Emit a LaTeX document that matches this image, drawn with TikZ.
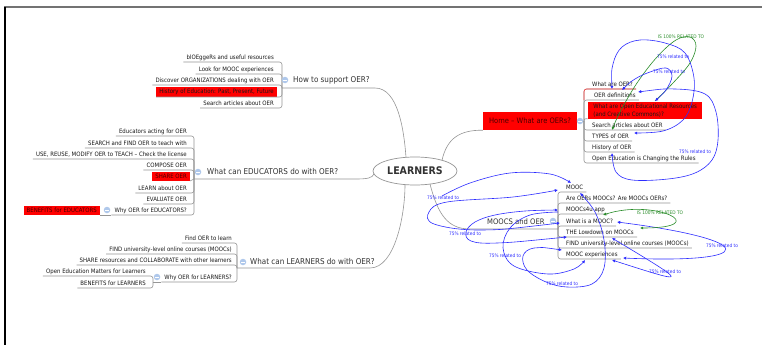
\documentclass[tikz,border=0pt]{standalone}
\usepackage{fontspec}
\setmainfont{DejaVu Sans}[FakeStretch=0.9]
\usetikzlibrary{arrows.meta,calc,shapes.geometric}
\definecolor{relblue}{RGB}{45,45,255}
\definecolor{relgreen}{RGB}{40,140,40}
\definecolor{connc}{RGB}{150,150,150}
\definecolor{expc}{RGB}{175,200,235}
\definecolor{boxred}{RGB}{255,0,0}
\definecolor{darkred}{RGB}{75,0,0}
\definecolor{bodytxt}{RGB}{25,25,25}
\definecolor{maintxt}{RGB}{50,50,50}
\tikzset{
  conn/.style={draw=connc, line width=0.6pt},
  leaf/.style={inner sep=0pt, text=bodytxt, font=\fontsize{6}{7}\selectfont},
  leafred/.style={leaf, fill=boxred, inner xsep=3pt, inner ysep=2pt},
  topic/.style={inner sep=0pt, text=maintxt, font=\fontsize{8}{9}\selectfont},
  expander/.style={circle, fill=expc, minimum size=6.5pt, inner sep=0pt,
    path picture={\draw[white,line width=0.7pt] ([xshift=-1.8pt]path picture bounding box.center) -- ([xshift=1.8pt]path picture bounding box.center);}},
  rel/.style={draw=relblue, line width=0.6pt},
  relg/.style={draw=relgreen, line width=0.6pt},
  rlab/.style={text=relblue, inner sep=0pt, font=\fontsize{4.8}{5}\selectfont},
  glab/.style={text=relgreen, inner sep=0pt, font=\fontsize{4.8}{5}\selectfont},
}
% left child: name, x right, y, text, bracket x, junction y
\newcommand{\lchild}[6]{%
  \node[leaf, anchor=mid east] (#1) at (#2,#3) {#4};
  \draw[conn, rounded corners=2.5pt] ([xshift=-3pt,yshift=-5pt]#1.mid west) -- (#5,#3+5) -- (#5,#6);}
% left red child: name, x right, y bottom, text, bracket x, junction y
\newcommand{\lred}[6]{%
  \node[leafred, anchor=south east] (#1) at (#2,#3) {#4};
  \draw[conn, rounded corners=2.5pt] (#1.south west) -- (#5,#3) -- (#5,#6);}
% right child: name, x left, y, text, bracket x, junction y
\newcommand{\rchild}[6]{%
  \node[leaf, anchor=mid west] (#1) at (#2,#3) {#4};
  \draw[conn, rounded corners=2.5pt] (#5,#6) -- (#5,#3+5) -- ([xshift=3pt,yshift=-5pt]#1.mid east);}
\begin{document}
\begin{tikzpicture}[x=1pt,y=-1pt,>={Latex[length=3.2pt,width=3.2pt]}]
\fill[white] (0,0) rectangle (762,345);
\useasboundingbox (0,0) rectangle (762,345);
% frame
\draw[line width=1.5pt, draw=black!55] (4,7) -- (762,7);
\draw[line width=1.2pt, black] (5,7) -- (5,345);

% central topic
\node[ellipse, draw=connc, line width=0.7pt, minimum width=84pt, minimum height=28pt, inner sep=0pt,
      font=\bfseries\fontsize{10.5}{12}\selectfont, text=maintxt] (root) at (415,171) {LEARNERS};
\coordinate (rHow) at (406,157.4);
\coordinate (rEdu) at (374,174);
\coordinate (rLrn) at (405,184.6);
\coordinate (rHome) at (442,160.3);
\coordinate (rMooc) at (430,184);

% ---------- How to support OER?
\node[topic, anchor=mid west] (how) at (293,80) {How to support OER?};
\coordinate (howj) at (282,88);
\draw[conn] (howj) -- (375,88) .. controls (398,88) and (404,130) .. (rHow);
\lchild{h1}{274}{57}{blOEggeRs and useful resources}{282}{88}
\lchild{h2}{274}{69}{Look for MOOC experiences}{282}{88}
\lchild{h3}{274}{80}{Discover ORGANIZATIONS dealing with OER}{282}{88}
\lred{h4}{277}{97}{History of Education: Past, Present, Future}{282}{88}
\lchild{h5}{274}{103}{Search articles about OER}{282}{88}
\node[expander] (howx) at (285,80) {};

% ---------- Educators
\node[topic, anchor=mid west] (edu) at (207,172) {What can EDUCATORS do with OER?};
\coordinate (eduj) at (194,179);
\draw[conn] (eduj) -- (355,179) .. controls (368,179) and (372,178) .. (rEdu);
\lchild{e1}{187}{131}{Educators acting for OER}{194}{179}
\lchild{e2}{187}{143}{SEARCH and FIND OER to teach with}{194}{179}
\lchild{e3}{187}{154}{USE, REUSE, MODIFY OER to TEACH – Check the license}{194}{179}
\lchild{e4}{187}{165}{COMPOSE OER}{194}{179}
\node[leafred, anchor=south east, text=darkred] (e5) at (190,181) {SHARE OER};
\draw[conn] (e5.south east) -- (eduj);
\lchild{e6}{187}{188}{LEARN about OER}{194}{179}
\lchild{e7}{187}{199}{EVALUATE OER}{194}{179}
\lchild{e8}{187}{210}{Why OER for EDUCATORS?}{194}{179}
\node[leafred, anchor=south east, text=darkred] (e9) at (100,215) {BENEFITS for EDUCATORS};
\draw[conn] (e9.south east) -- ([xshift=-3pt,yshift=-5pt]e8.mid west);
\node[expander] (e8x) at (107,210) {};
\node[expander] (edux) at (198,172) {};

% ---------- Learners
\node[topic, anchor=mid west] (lrn) at (250,262) {What can LEARNERS do with OER?};
\coordinate (lrnj) at (237,268);
\draw[conn] (lrnj) -- (370,268) .. controls (395,268) and (405,215) .. (rLrn);
\lchild{l1}{232}{238}{Find OER to learn}{237}{268}
\lchild{l2}{232}{249}{FIND university-level online courses (MOOCs)}{237}{268}
\lchild{l3}{232}{260}{SHARE resources and COLLABORATE with other learners}{237}{268}
\lchild{l4}{232}{277}{Why OER for LEARNERS?}{237}{268}
\coordinate (l4j) at (153,282);
\draw[conn] (l4j) -- ([xshift=-3pt,yshift=-5pt]l4.mid west);
\lchild{l5}{146}{271}{Open Education Matters for Learners}{153}{282}
\lchild{l6}{146}{283}{BENEFITS for LEARNERS}{153}{282}
\node[expander] (l4x) at (157,277) {};
\node[expander] (lrnx) at (243,262) {};

% ---------- Home - What are OERs?
\node[fill=boxred, text=darkred, font=\fontsize{7.5}{9}\selectfont, minimum width=94pt, minimum height=18pt, inner sep=0pt] (home) at (530,121) {Home – What are OERs?};
\draw[conn] (rHome) .. controls (447,138) and (460,130) .. (home.south west);
\coordinate (homej) at (584,121);
\draw[conn] (home.east) -- (homej);
\rchild{o1}{592}{84}{What are OER?}{584}{121}
\draw[draw=boxred!75, line width=0.6pt, rounded corners=2.5pt] (584,100) -- (584,89) -- ([xshift=3pt,yshift=-5pt]o1.mid east);
\rchild{o2}{594}{95}{OER definitions}{584}{121}
\node[fill=boxred, anchor=north west, align=left, text=bodytxt, font=\fontsize{6}{8.5}\selectfont,
      minimum width=114pt, minimum height=16.5pt, inner xsep=3pt, inner ysep=1pt] (o3) at (588,102)
      {What are Open Educational Resources\\(and Creative Commons)?};
\draw[conn, rounded corners=2pt] (homej) -- (584,118.5) -- (o3.south west);
\rchild{o4}{592}{125}{Search articles about OER}{584}{121}
\rchild{o5}{592}{136}{TYPES of OER}{584}{121}
\rchild{o6}{592}{147}{History of OER}{584}{121}
\rchild{o7}{592}{158}{Open Education is Changing the Rules}{584}{121}
\node[expander] (homex) at (580,121) {};

% ---------- MOOCS and OER
\node[topic, anchor=mid west, font=\fontsize{7.6}{9}\selectfont] (mooc) at (487,222) {MOOCS and OER};
\coordinate (moocj) at (558,229);
\draw[conn] (rMooc) .. controls (438,215) and (448,229) .. (470,229) -- (moocj);
\rchild{m1}{566}{187}{MOOC}{558}{229}
\rchild{m2}{566}{198}{Are OERs MOOCs? Are MOOCs OERs?}{558}{229}
\rchild{m3}{566}{209}{MOOCs4u app}{558}{229}
\rchild{m4}{566}{221}{What is a MOOC?}{558}{229}
\rchild{m5}{566}{232}{THE Lowdown on MOOCs}{558}{229}
\rchild{m6}{566}{243}{FIND university-level online courses (MOOCs)}{558}{229}
\rchild{m7}{566}{254}{MOOC experiences}{558}{229}
\node[expander] (moocx) at (553,221) {};

% ---------- relationships, OER area
\coordinate (g1) at (655,101); \coordinate (g2) at (612,130);
\draw[relg,->] plot[smooth,tension=0.6] coordinates {(g1) (673,83) (690,63) (696,46) (690,37) (676,40) (657,57) (637,83) (620,112) (g2)};
\node[glab] (gl1) at (681,37) {IS 100\% RELATED TO};

\coordinate (b1a) at (612,89); \coordinate (b1b) at (634,133);
\draw[rel,<->] plot[smooth,tension=0.6] coordinates {(b1a) (613,64) (622,47) (640,40) (665,43) (685,53) (694,78) (692,102) (683,120) (663,131) (b1b)};
\node[rlab] (bl1) at (673,57) {75\% related to};

\coordinate (b2a) at (622,90); \coordinate (b2b) at (655,101);
\draw[rel,<->] plot[smooth,tension=0.6] coordinates {(b2a) (635,79) (650,72) (666,68) (672,76) (666,90) (b2b)};
\node[rlab] (bl2) at (669,72) {75\% related to};

\coordinate (b3a) at (638,92); \coordinate (b3b) at (612,153);
\draw[rel,<->] plot[smooth,tension=0.6] coordinates {(b3a) (675,89) (705,94) (716,112) (718,140) (712,160) (695,173) (668,179) (632,180) (616,172) (b3b)};
\node[rlab] (bl3) at (695,152) {75\% related to};

% ---------- relationships, MOOC area
\coordinate (a2a) at (442,196); \coordinate (a2b) at (571,183);
\draw[rel,->] plot[smooth,tension=0.6] coordinates {(a2a) (470,183) (510,173) (550,174) (a2b)};
\node[rlab] (ml1) at (443,198) {75\% related to};

\coordinate (a1a) at (560,223); \coordinate (a1b) at (558,190);
\draw[rel,<->] plot[smooth,tension=0.6] coordinates {(a1a) (480,230) (434,224) (429,212) (447,202) (513,197) (a1b)};

\coordinate (mba) at (567,237); \coordinate (mbb) at (558,210);
\draw[rel,<->] plot[smooth,tension=0.6] coordinates {(mba) (497,243) (471,241) (466,232) (475,222) (495,215) (525,211) (mbb)};
\node[rlab] (ml2) at (465,234) {75\% related to};

\coordinate (mca) at (558,212); \coordinate (mcb) at (585,260);
\draw[rel,->] plot[smooth,tension=0.6] coordinates {(mca) (530,215) (510,228) (503,248) (514,266) (548,274) (574,269) (mcb)};
\node[rlab] (ml3) at (505,256) {75\% related to};

\coordinate (mda) at (562,250); \coordinate (mdb) at (580,193);
\draw[rel,<->] plot[smooth,tension=0.6] coordinates {(mda) (534,248) (523,256) (527,270) (546,282) (567,287) (592,284) (604,268) (604,240) (595,212) (mdb)};
\node[rlab] (ml4) at (562,284) {75\% related to};

\coordinate (mea) at (612,238); \coordinate (meb) at (612,260);
\draw[rel,<->] (mea) .. controls (690,285) and (690,285) .. (meb);
\node[rlab] (ml5) at (665,272) {75\% related to};

\coordinate (mfa) at (617,222); \coordinate (mfb) at (623,258);
\draw[rel,<->] (mfa) .. controls (760,240) and (760,264) .. (mfb);
\node[rlab] (ml6) at (722,246) {75\% related to};

\coordinate (mga) at (603,215); \coordinate (mgb) at (640,228);
\draw[relg,<->] (mga) .. controls (655,198) and (715,228) .. (mgb);
\node[glab] (mgl) at (660,213) {IS 100\% RELATED TO};
\end{tikzpicture}
\end{document}
